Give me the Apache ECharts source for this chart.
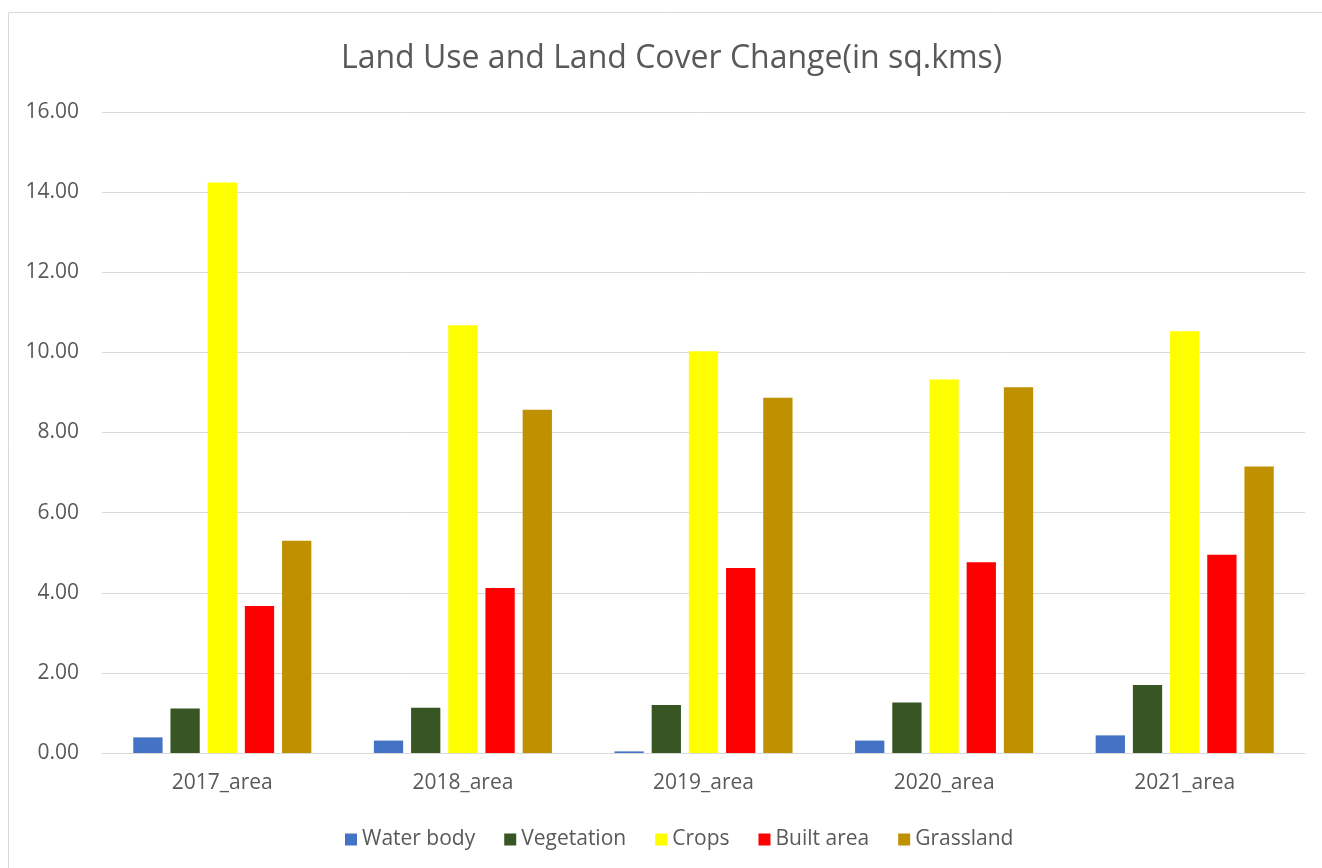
<!DOCTYPE html>
<html>
<head>
<meta charset="utf-8">
<script src="https://cdn.jsdelivr.net/npm/echarts@6/dist/echarts.min.js"></script>
<style>
  html, body { margin: 0; padding: 0; background: #fff; }
  #chart { width: 1322px; height: 868px; }
</style>
</head>
<body>
<div id="chart"></div>
<script>
// Land cover classes per year (sq. km)
const categories = ['2017_area', '2018_area', '2019_area', '2020_area', '2021_area'];
const waterBody  = [0.39, 0.31, 0.04, 0.31, 0.44];
const vegetation = [1.11, 1.13, 1.20, 1.26, 1.70];
const crops      = [14.24, 10.68, 10.03, 9.32, 10.53];
const builtArea  = [3.67, 4.12, 4.62, 4.76, 4.95];
const grassland  = [5.30, 8.57, 8.87, 9.13, 7.15];
const yTicks = { min: 0, max: 16, interval: 2 };

const seriesDefs = [
  { name: 'Water body', data: waterBody,  color: '#4472c4' },
  { name: 'Vegetation', data: vegetation, color: '#375623' },
  { name: 'Crops',      data: crops,      color: '#ffff00' },
  { name: 'Built area', data: builtArea,  color: '#ff0000' },
  { name: 'Grassland',  data: grassland,  color: '#bf9000' }
];

const fontFamily = '"Open Sans", sans-serif';
const textColor = '#595959';

const chart = echarts.init(document.getElementById('chart'), null, { renderer: 'canvas' });
chart.setOption({
  backgroundColor: '#ffffff',
  animation: false,
  graphic: [{
    type: 'rect',
    shape: { x: 8.5, y: 12.5, width: 1340, height: 900 },
    style: { fill: 'none', stroke: '#d9d9d9', lineWidth: 1 },
    silent: true, z: -1
  }],
  title: {
    text: 'Land Use and Land Cover Change(in sq.kms)',
    left: 336,
    top: 38,
    textStyle: { fontFamily: fontFamily, fontSize: 32, fontWeight: 'normal', color: textColor }
  },
  legend: {
    left: 340,
    top: 824,
    itemWidth: 12,
    itemHeight: 12,
    itemGap: 29,
    icon: 'rect',
    textStyle: { fontFamily: fontFamily, fontSize: 21, color: textColor }
  },
  grid: { left: 102, right: 17, top: 112, bottom: 115, containLabel: false },
  xAxis: {
    type: 'category',
    data: categories,
    axisLine: { show: true, lineStyle: { color: '#d9d9d9', width: 1 } },
    axisTick: { show: false },
    axisLabel: { fontFamily: fontFamily, fontSize: 21, color: textColor, margin: 20 }
  },
  yAxis: {
    type: 'value',
    min: yTicks.min, max: yTicks.max, interval: yTicks.interval,
    axisLine: { show: false },
    axisTick: { show: false },
    splitLine: { lineStyle: { color: '#d9d9d9', width: 1 } },
    axisLabel: {
      fontFamily: fontFamily, fontSize: 21, color: textColor, margin: 23,
      formatter: v => v.toFixed(2)
    }
  },
  series: seriesDefs.map(s => ({
    name: s.name,
    type: 'bar',
    data: s.data,
    barGap: '27%',
    barCategoryGap: '26%',
    itemStyle: { color: s.color }
  }))
});
</script>
</body>
</html>
